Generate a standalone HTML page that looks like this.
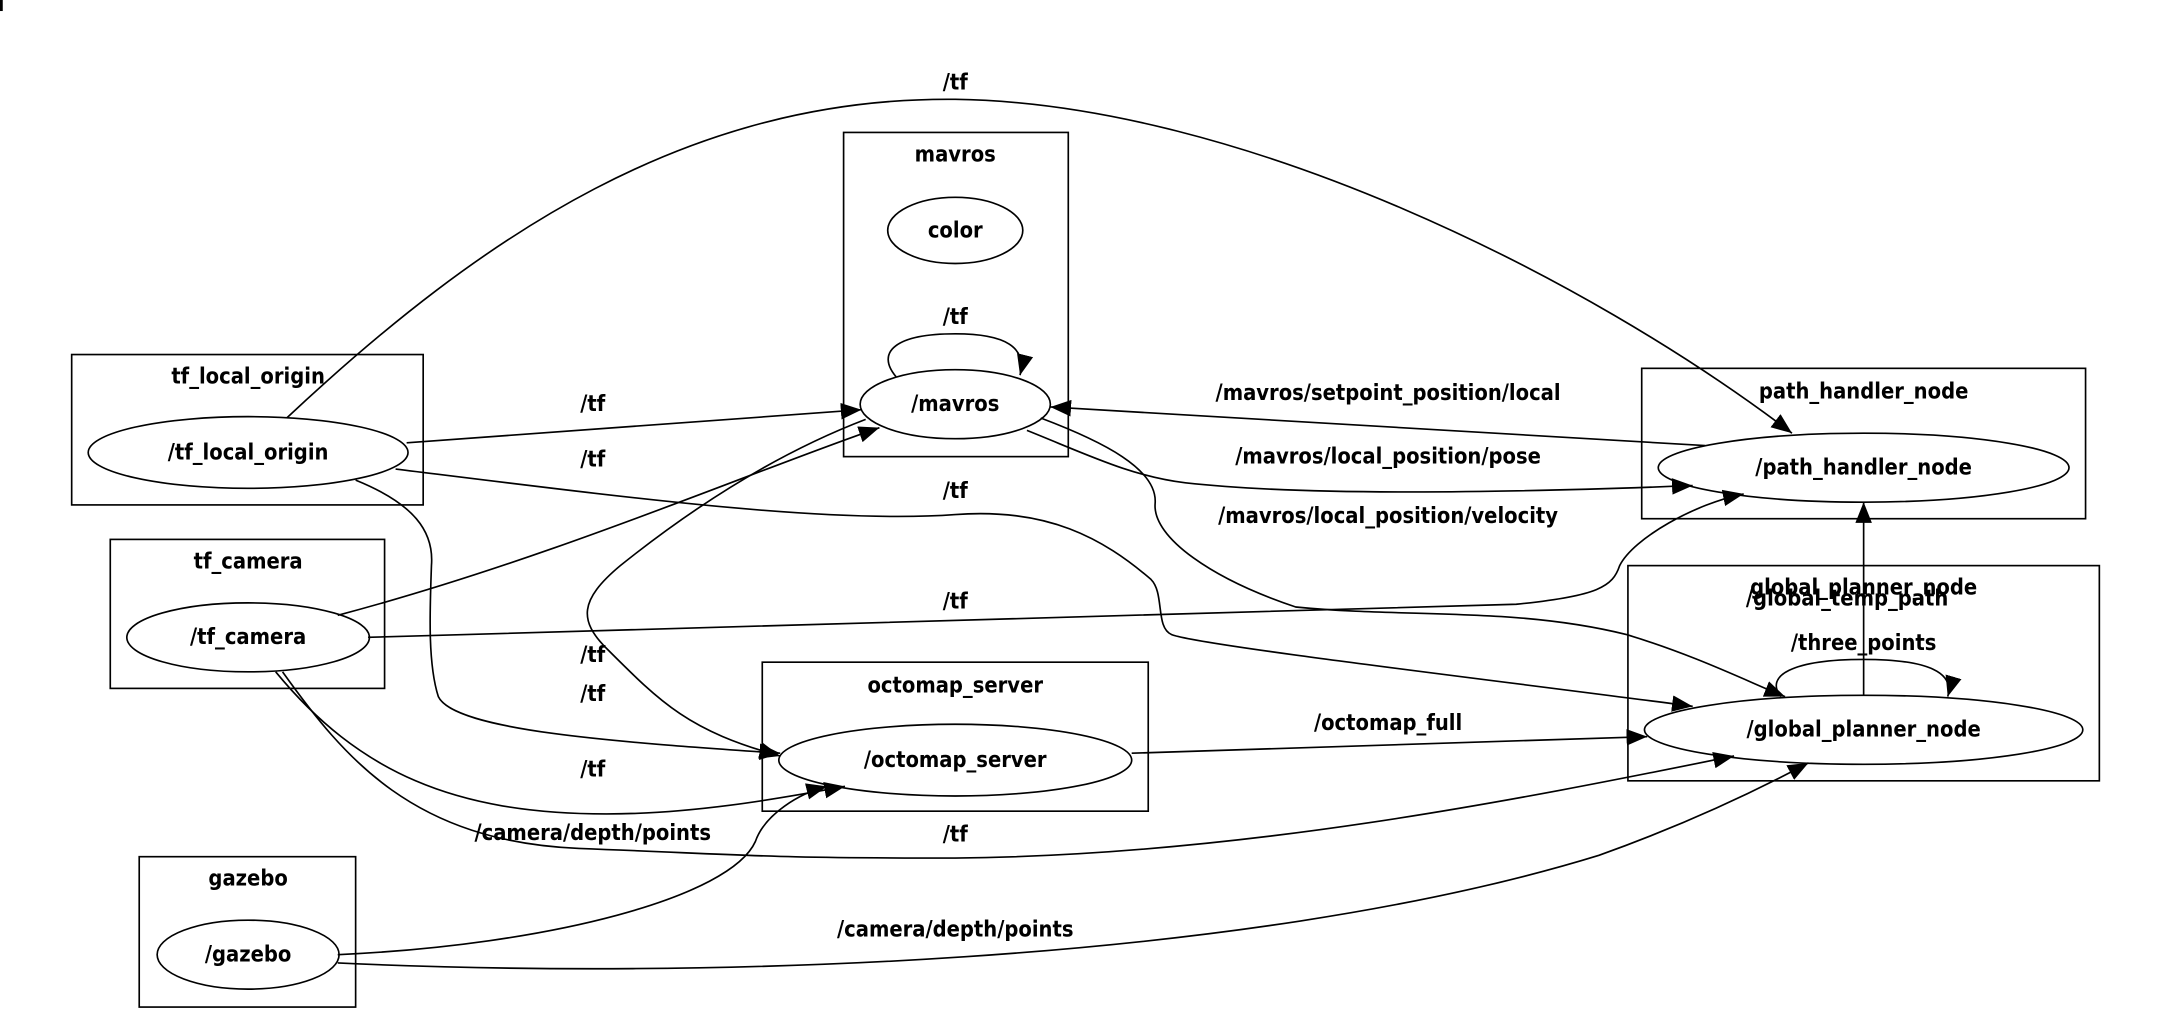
<!DOCTYPE html>
<html><head><meta charset="utf-8"><style>
html,body{margin:0;padding:0;background:#fff;width:2160px;height:1025px;overflow:hidden}
svg{display:block}
text{font-family:"DejaVu Sans Condensed","DejaVu Sans","Liberation Sans",sans-serif;font-size:15.8px;font-weight:bold;text-anchor:middle;fill:#000}
</style></head><body>
<svg width="2160" height="1025" viewBox="0 0 1567 743" preserveAspectRatio="none" xmlns="http://www.w3.org/2000/svg">
<defs><marker id="a" markerUnits="userSpaceOnUse" markerWidth="16" markerHeight="12" refX="15" refY="6" orient="auto"><path d="M0,0 L15,6 L0,12 Z" fill="#000"/></marker></defs>
<line x1="1" y1="0" x2="1" y2="8" stroke="#000" stroke-width="2"/>
<g fill="none" stroke="#000" stroke-width="1.2">
<rect x="612" y="96" width="163" height="235"/>
<rect x="52" y="257" width="255" height="109"/>
<rect x="80" y="391" width="199" height="108"/>
<rect x="553" y="480" width="280" height="108"/>
<rect x="101" y="621" width="157" height="109"/>
<rect x="1191" y="267" width="322" height="109"/>
<rect x="1181" y="410" width="342" height="156"/>
<ellipse cx="693" cy="167" rx="49" ry="24"/>
<ellipse cx="693" cy="293" rx="69" ry="25"/>
<ellipse cx="180" cy="328" rx="116" ry="26"/>
<ellipse cx="180" cy="462" rx="88" ry="25"/>
<ellipse cx="693" cy="551" rx="128" ry="26"/>
<ellipse cx="180" cy="692" rx="66" ry="25"/>
<ellipse cx="1352" cy="339" rx="149" ry="25"/>
<ellipse cx="1352" cy="529" rx="159" ry="25"/>
</g>
<g fill="none" stroke="#000" stroke-width="1.2" marker-end="url(#a)">
<path d="M650,273 C635,255 650,242 693,242 C730,242 745,252 740,272"/>
<path d="M208,303 C350,170 500,70 693,72 C900,75 1150,200 1300,314"/>
<path d="M295,321 L625,297"/>
<path d="M287,340 C450,360 600,380 693,373 C760,368 800,390 835,420 C845,430 838,455 850,460 C870,468 1100,495 1228,512"/>
<path d="M258,348 C300,365 315,385 313,410 C312,440 310,480 318,505 C330,530 450,538 566,546"/>
<path d="M245,446 C400,405 550,340 638,310"/>
<path d="M267,462 L1100,438 C1160,432 1170,425 1175,410 C1185,390 1230,365 1265,358"/>
<path d="M200,487 C260,560 330,590 440,590 C500,590 560,580 613,570"/>
<path d="M205,487 C250,550 300,610 420,615 C550,620 550,622 693,622 C900,620 1100,580 1258,548"/>
<path d="M628,304 C560,330 500,370 450,410 C420,435 420,450 440,470 C480,510 500,530 566,548"/>
<path d="M1237,323 L762,295"/>
<path d="M745,312 C790,330 820,345 860,350 C950,360 1100,357 1228,352"/>
<path d="M755,303 C800,320 840,340 838,365 C836,390 880,420 940,440 C1020,448 1100,440 1180,460 C1230,475 1270,495 1295,505"/>
<path d="M821,546 L1195,534"/>
<path d="M245,692 C400,685 530,650 548,610 C555,590 580,575 600,570"/>
<path d="M245,698 C500,710 900,700 1160,620 C1230,595 1280,570 1312,553"/>
<path d="M1292,505 C1280,490 1300,478 1352,478 C1400,478 1418,488 1413,505"/>
<path d="M1352,504 L1352,364"/>
</g>
<text x="693" y="117">mavros</text>
<text x="693" y="172">color</text>
<text x="693" y="235">/tf</text>
<text x="693" y="298">/mavros</text>
<text x="180" y="278">tf_local_origin</text>
<text x="180" y="333">/tf_local_origin</text>
<text x="180" y="412">tf_camera</text>
<text x="180" y="467">/tf_camera</text>
<text x="693" y="502">octomap_server</text>
<text x="693" y="556">/octomap_server</text>
<text x="180" y="642">gazebo</text>
<text x="180" y="697">/gazebo</text>
<text x="1352" y="289">path_handler_node</text>
<text x="1352" y="344">/path_handler_node</text>
<text x="1352" y="431">global_planner_node</text>
<text x="1340" y="439">/global_temp_path</text>
<text x="1352" y="471">/three_points</text>
<text x="1352" y="534">/global_planner_node</text>
<text x="693" y="65">/tf</text>
<text x="430" y="298">/tf</text>
<text x="430" y="338">/tf</text>
<text x="693" y="361">/tf</text>
<text x="693" y="441">/tf</text>
<text x="430" y="480">/tf</text>
<text x="430" y="508">/tf</text>
<text x="430" y="563">/tf</text>
<text x="693" y="610">/tf</text>
<text x="430" y="609">/camera/depth/points</text>
<text x="693" y="679">/camera/depth/points</text>
<text x="1007" y="290">/mavros/setpoint_position/local</text>
<text x="1007" y="336">/mavros/local_position/pose</text>
<text x="1007" y="379">/mavros/local_position/velocity</text>
<text x="1007" y="529">/octomap_full</text>
</svg>
</body></html>
